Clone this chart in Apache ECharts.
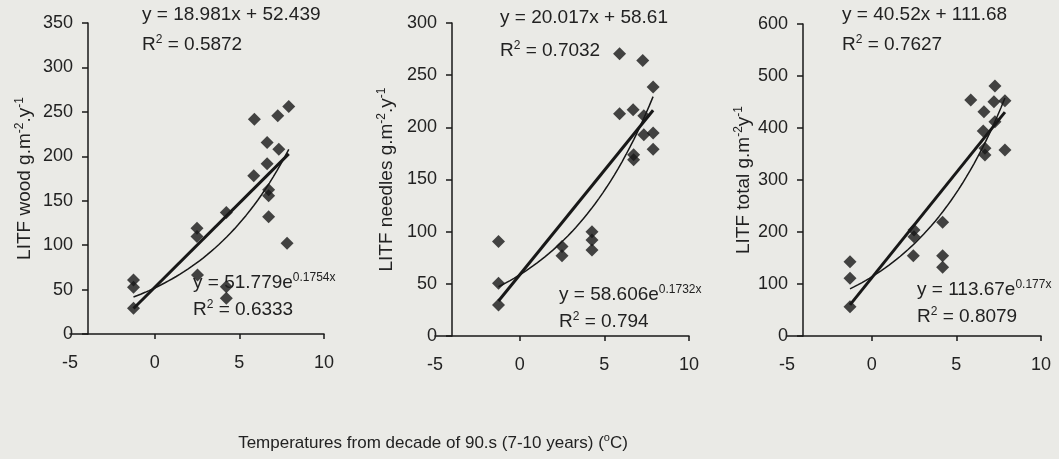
<!DOCTYPE html>
<html><head><meta charset="utf-8">
<script src="https://cdn.jsdelivr.net/npm/echarts@6/dist/echarts.min.js"></script>
<style>html,body{margin:0;padding:0;background:#eaeae6}#c{width:1059px;height:459px}</style>
</head><body><div id="c"></div>
<script>
// ---- data ----
const woodX = [-1.25,-1.25,-1.25,2.5,2.5,2.53,4.23,4.23,4.23,5.89,5.85,6.64,6.64,6.73,6.73,6.73,7.27,7.33,7.92,7.82];
const woodY = [60.8,52.6,28.9,119,109.6,66.5,136.7,53.3,40.2,241.8,178,215.5,191.5,162.2,155.5,132,245.6,208,256,102.2];
const needlesX = [-1.25,-1.25,-1.25,2.5,2.5,4.27,4.27,4.27,5.9,5.9,6.7,6.73,6.73,7.27,7.33,7.33,7.88,7.88,7.88];
const needlesY = [90.5,50.6,29.7,85.7,76.8,100,92,82.5,270.5,213,216.8,173.7,168.9,264,211,192.8,238.6,194.5,179];
const totalX = [-1.28,-1.28,-1.28,2.5,2.5,2.46,4.19,4.19,4.19,5.85,6.63,6.59,6.69,6.69,7.28,7.22,7.28,7.87,7.87];
const totalY = [142.9,111,56.4,203.8,191,154.5,218.6,154.5,132,453.8,431.4,394,361,348,480.8,450.6,412,452.5,357.7];

// trendline coefficients printed on the chart
const linSlope = [18.981, 20.017, 40.52];
const linIntercept = [52.439, 58.61, 111.68];
const linR2 = ['0.5872', '0.7032', '0.7627'];
const expCoef = [51.779, 58.606, 113.67];
const expRate = [0.1754, 0.1732, 0.177];
const expR2 = ['0.6333', '0.794', '0.8079'];

// axes
const xTicks = [-5, 0, 5, 10];
const yMax = [350, 300, 600];
const yStep = [50, 50, 100];
const yNames = [['LITF wood g.m', '-2', '.y', '-1'], ['LITF needles g.m', '-2', '.y', '-1'], ['LITF total g.m', '-2', 'y', '-1']];
const xTitle = ['Temperatures from decade of 90.s (7-10 years) (', 'o', 'C)'];

// ---- layout ----
const FONT = '"Liberation Sans", Arial, sans-serif';
const INK = '#181818';
const TXT = '#222222';
const grids = [
  {left: 70, top: 23, width: 254, height: 311},
  {left: 435, top: 23, width: 254, height: 313},
  {left: 787, top: 24, width: 254, height: 312}
];
const yOffsets = [-18, -17, -16];
const nameGaps = [52, 54, 48];
const linLabelPos = [[142, 15, 45], [500, 18, 51], [842, 15, 45]];
const expLabelPos = [[193, 283, 310], [559, 295, 322], [917, 290, 317]];

const xs = [woodX, needlesX, totalX];
const ys = [woodY, needlesY, totalY];

const option = {
  backgroundColor: '#eaeae6',
  animation: false,
  textStyle: {fontFamily: FONT, color: TXT},
  grid: grids.map(g => Object.assign({containLabel: false}, g)),
  xAxis: grids.map((g, i) => ({
    type: 'value', gridIndex: i, min: xTicks[0], max: xTicks[xTicks.length - 1], interval: 5,
    axisLine: {show: true, lineStyle: {color: INK, width: 1.5}},
    axisTick: {show: true, length: 5, lineStyle: {color: INK, width: 1.5}, customValues: xTicks.slice(1)},
    axisLabel: {fontSize: 18, color: TXT, margin: 20, fontFamily: FONT},
    splitLine: {show: false}
  })),
  yAxis: grids.map((g, i) => ({
    type: 'value', gridIndex: i, min: 0, max: yMax[i], interval: yStep[i], offset: yOffsets[i],
    name: '{n|' + yNames[i][0] + '}{s|' + yNames[i][1] + '}{n|' + yNames[i][2] + '}{s|' + yNames[i][3] + '}',
    nameLocation: 'middle', nameGap: nameGaps[i],
    nameTextStyle: {rich: {
      n: {fontSize: 19, color: TXT, fontFamily: FONT, lineHeight: 22},
      s: {fontSize: 12, color: TXT, fontFamily: FONT, verticalAlign: 'top', lineHeight: 22}
    }},
    axisLine: {show: true, onZero: false, lineStyle: {color: INK, width: 1.5}},
    axisTick: {show: true, length: 6, lineStyle: {color: INK, width: 1.5}},
    axisLabel: {fontSize: 18, color: TXT, margin: 15, fontFamily: FONT},
    splitLine: {show: false}
  })),
  series: []
};

xs.forEach((xa, i) => {
  const pts = xa.map((x, k) => [x, ys[i][k]]);
  const lo = Math.min(...xa), hi = Math.max(...xa);
  option.series.push({
    type: 'scatter', xAxisIndex: i, yAxisIndex: i, data: pts,
    symbol: 'diamond', symbolSize: 13, itemStyle: {color: INK}, z: 3
  });
  option.series.push({
    type: 'line', xAxisIndex: i, yAxisIndex: i, showSymbol: false, symbol: 'none',
    data: [[lo, linSlope[i] * lo + linIntercept[i]], [hi, linSlope[i] * hi + linIntercept[i]]],
    lineStyle: {color: INK, width: 3}, z: 4
  });
  const curve = [];
  const n = 40;
  for (let k = 0; k <= n; k++) {
    const x = lo + (hi - lo) * k / n;
    curve.push([x, expCoef[i] * Math.exp(expRate[i] * x)]);
  }
  option.series.push({
    type: 'line', xAxisIndex: i, yAxisIndex: i, showSymbol: false, symbol: 'none', smooth: false,
    data: curve, lineStyle: {color: INK, width: 1.5}, z: 4
  });
});

const big = {fontSize: 19, fontFamily: FONT, fill: TXT, lineHeight: 22};
const sup = {fontSize: 12, fontFamily: FONT, fill: TXT, verticalAlign: 'top', lineHeight: 22};
const graphics = [];
for (let i = 0; i < 3; i++) {
  const [lx, ly1, ly2] = linLabelPos[i];
  graphics.push({type: 'text', x: lx, y: ly1, z: 10, style: {text: 'y = ' + linSlope[i] + 'x + ' + linIntercept[i], font: '19px ' + FONT, fill: TXT, verticalAlign: 'middle'}});
  graphics.push({type: 'text', x: lx, y: ly2, z: 10, style: {text: '{b|R}{s|2}{b| = ' + linR2[i] + '}', rich: {b: big, s: sup}, verticalAlign: 'middle'}});
  const [ex, ey1, ey2] = expLabelPos[i];
  graphics.push({type: 'text', x: ex, y: ey1, z: 10, style: {text: '{b|y = ' + expCoef[i] + 'e}{s|' + expRate[i] + 'x}', rich: {b: big, s: sup}, verticalAlign: 'middle'}});
  graphics.push({type: 'text', x: ex, y: ey2, z: 10, style: {text: '{b|R}{s|2}{b| = ' + expR2[i] + '}', rich: {b: big, s: sup}, verticalAlign: 'middle'}});
}
graphics.push({type: 'text', x: 433, y: 443, z: 10, style: {
  text: '{b|' + xTitle[0] + '}{s|' + xTitle[1] + '}{b|' + xTitle[2] + '}',
  rich: {b: {fontSize: 17, fontFamily: FONT, fill: TXT, lineHeight: 22}, s: {fontSize: 11, fontFamily: FONT, fill: TXT, verticalAlign: 'top', lineHeight: 22}},
  align: 'center', verticalAlign: 'middle'}});
option.graphic = graphics;

const chart = echarts.init(document.getElementById('c'), null, {renderer: 'canvas'});
chart.setOption(option);
</script>
</body></html>
